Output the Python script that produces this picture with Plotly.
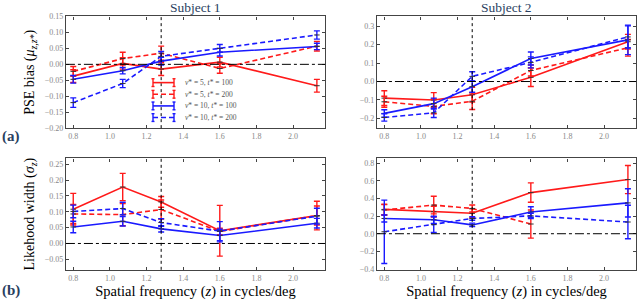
import plotly.graph_objects as go
from plotly.subplots import make_subplots

freqs = [0.8, 1.07, 1.28, 1.6, 2.13]
series_names = ["<i>v</i>* = 5, <i>t</i>* = 100", "<i>v</i>* = 5, <i>t</i>* = 200",
                "<i>v</i>* = 10, <i>t</i>* = 100", "<i>v</i>* = 10, <i>t</i>* = 200"]

# Subject 1 PSE bias
s1_bias_r100 = [-0.037, 0.003, -0.015, 0.007, -0.067]
s1_bias_r100_err = [0.02, 0.018, 0.02, 0.015, 0.02]
s1_bias_r200 = [-0.022, 0.018, 0.035, -0.013, 0.057]
s1_bias_r200_err = [0.015, 0.02, 0.022, 0.015, 0.015]
s1_bias_b100 = [-0.047, -0.02, 0.01, 0.038, 0.056]
s1_bias_b100_err = [0.012, 0.01, 0.012, 0.012, 0.01]
s1_bias_b200 = [-0.12, -0.06, 0.025, 0.05, 0.092]
s1_bias_b200_err = [0.015, 0.013, 0.015, 0.012, 0.013]

# Subject 2 PSE bias
s2_bias_r100 = [-0.09, -0.1, -0.072, 0.023, 0.216]
s2_bias_r100_err = [0.04, 0.04, 0.04, 0.05, 0.04]
s2_bias_r200 = [-0.11, -0.135, -0.107, 0.06, 0.183]
s2_bias_r200_err = [0.03, 0.04, 0.045, 0.03, 0.045]
s2_bias_b100 = [-0.173, -0.12, -0.028, 0.125, 0.226]
s2_bias_b100_err = [0.02, 0.03, 0.03, 0.035, 0.08]
s2_bias_b200 = [-0.195, -0.17, 0.028, 0.104, 0.242]
s2_bias_b200_err = [0.02, 0.025, 0.025, 0.03, 0.06]

# Subject 1 likelihood width
s1_w_r100 = [0.108, 0.178, 0.131, 0.04, 0.088]
s1_w_r100_err = [0.05, 0.043, 0.017, 0.08, 0.045]
s1_w_r200 = [0.093, 0.091, 0.107, 0.038, 0.088]
s1_w_r200_err = [0.03, 0.035, 0.03, 0.01, 0.03]
s1_w_b100 = [0.052, 0.07, 0.046, 0.025, 0.064]
s1_w_b100_err = [0.018, 0.015, 0.01, 0.02, 0.015]
s1_w_b200 = [0.101, 0.11, 0.066, 0.039, 0.086]
s1_w_b200_err = [0.02, 0.02, 0.012, 0.03, 0.025]

# Subject 2 likelihood width
s2_w_r100 = [0.276, 0.25, 0.232, 0.467, 0.615]
s2_w_r100_err = [0.06, 0.06, 0.05, 0.11, 0.16]
s2_w_r200 = [0.27, 0.325, 0.287, 0.11, None]
s2_w_r200_err = [0.06, 0.1, 0.04, 0.16, 0]
s2_w_b100 = [0.173, 0.158, 0.1, 0.247, 0.35]
s2_w_b100_err = [0.04, 0.04, 0.02, 0.06, 0.16]
s2_w_b200 = [0.022, 0.103, 0.173, 0.203, 0.133]
s2_w_b200_err = [0.36, 0.09, 0.02, 0.03, 0.19]

x_ticks = [0.8, 1.0, 1.2, 1.4, 1.6, 1.8, 2.0]

RED = "#ff1a1a"
BLUE = "#1a1aff"
FONT = "Liberation Serif"
W, H = 640, 306
DASH = "5px,3px"

fig = make_subplots(rows=2, cols=2)

panels = [
    (1, 1, [s1_bias_r100, s1_bias_r200, s1_bias_b100, s1_bias_b200],
     [s1_bias_r100_err, s1_bias_r200_err, s1_bias_b100_err, s1_bias_b200_err]),
    (1, 2, [s2_bias_r100, s2_bias_r200, s2_bias_b100, s2_bias_b200],
     [s2_bias_r100_err, s2_bias_r200_err, s2_bias_b100_err, s2_bias_b200_err]),
    (2, 1, [s1_w_r100, s1_w_r200, s1_w_b100, s1_w_b200],
     [s1_w_r100_err, s1_w_r200_err, s1_w_b100_err, s1_w_b200_err]),
    (2, 2, [s2_w_r100, s2_w_r200, s2_w_b100, s2_w_b200],
     [s2_w_r100_err, s2_w_r200_err, s2_w_b100_err, s2_w_b200_err]),
]
colors = [RED, RED, BLUE, BLUE]
dashes = ["solid", DASH, "solid", DASH]

for r, c, ys, errs in panels:
    for i in range(4):
        fig.add_trace(go.Scatter(
            x=freqs, y=ys[i], mode="lines+markers", name=series_names[i],
            line=dict(color=colors[i], width=1.6, dash=dashes[i]),
            marker=dict(symbol="line-ew", size=4, color="#333",
                        line=dict(width=1, color="#333")),
            error_y=dict(type="data", array=errs[i], color=colors[i],
                         thickness=1.4, width=3),
            showlegend=False, connectgaps=False,
        ), row=r, col=c)

xdom_l = [0.103, 0.508]
xdom_r = [0.589, 0.994]
ydom_t = [0.582, 0.958]
ydom_b = [0.105, 0.480]
yranges = {(1, 1): [-0.2, 0.15], (1, 2): [-0.253, 0.353],
           (2, 1): [-0.083, 0.268], (2, 2): [-0.41, 0.855]}
ydtick = {(1, 1): 0.05, (1, 2): 0.1, (2, 1): 0.05, (2, 2): 0.2}
yfmt = {(1, 1): ".2f", (1, 2): ".1f", (2, 1): ".2f", (2, 2): ".1f"}

axis_common = dict(showgrid=False, zeroline=False, showline=True, linecolor="#444",
                   linewidth=1.2, mirror="ticks", ticks="inside", ticklen=3,
                   tickcolor="#444", tickfont=dict(family=FONT, size=8, color="#888"))

for r in (1, 2):
    for c in (1, 2):
        fig.update_xaxes(range=[0.76, 2.175], tickvals=x_ticks,
                         ticktext=["%.1f" % v for v in x_ticks],
                         domain=xdom_l if c == 1 else xdom_r, **axis_common,
                         row=r, col=c)
        fig.update_yaxes(range=yranges[(r, c)], dtick=ydtick[(r, c)], tick0=0,
                         tickformat=yfmt[(r, c)],
                         domain=ydom_t if r == 1 else ydom_b, **axis_common,
                         row=r, col=c)
        fig.add_vline(x=1.28, line=dict(color="black", width=1, dash="dot"), row=r, col=c)
        fig.add_hline(y=0, line=dict(color="black", width=1, dash="dashdot"), row=r, col=c)

title_font = dict(family=FONT, size=14, color="black")
xtitle_font = dict(family=FONT, size=14.5, color="black")
fig.update_yaxes(title_text="PSE bias (<i>μ</i><sub><i>z,z*</i></sub>)", title_font=title_font,
                 title_standoff=6, row=1, col=1)
fig.update_yaxes(title_text="Likehood width (<i>σ</i><sub><i>z</i></sub>)", title_font=title_font,
                 title_standoff=6, row=2, col=1)
fig.update_xaxes(title_text="Spatial frequency (<i>z</i>) in cycles/deg", title_font=xtitle_font,
                 title_standoff=1, row=2, col=1)
fig.update_xaxes(title_text="Spatial frequency (<i>z</i>) in cycles/deg", title_font=xtitle_font,
                 title_standoff=1, row=2, col=2)

annotations = [
    dict(text="Subject 1", x=(xdom_l[0] + xdom_l[1]) / 2, y=0.955, xref="paper", yref="paper",
         xanchor="center", yanchor="bottom", showarrow=False, font=dict(family=FONT, size=13.5)),
    dict(text="Subject 2", x=(xdom_r[0] + xdom_r[1]) / 2, y=0.955, xref="paper", yref="paper",
         xanchor="center", yanchor="bottom", showarrow=False, font=dict(family=FONT, size=13.5)),
    dict(text="<b>(a)</b>", x=0.0, y=1 - 137 / H, xref="paper", yref="paper", xanchor="left",
         yanchor="middle", showarrow=False, font=dict(family=FONT, size=15)),
    dict(text="<b>(b)</b>", x=0.0, y=1 - 295 / H, xref="paper", yref="paper", xanchor="left",
         yanchor="middle", showarrow=False, font=dict(family=FONT, size=15)),
]

# manual legend (compact, inside Subject 1 panel)
shapes = []
leg_rows = [81, 93, 105, 117]
lx0, lx1 = 153, 174
for i, ypx in enumerate(leg_rows):
    yp = 1 - ypx / H
    shapes.append(dict(type="line", xref="paper", yref="paper", x0=lx0 / W, x1=lx1 / W,
                       y0=yp, y1=yp, line=dict(color=colors[i], width=1.6, dash=dashes[i])))
    for xe in (lx0, lx1):
        shapes.append(dict(type="line", xref="paper", yref="paper", x0=xe / W, x1=xe / W,
                           y0=yp - 4 / H, y1=yp + 4 / H, line=dict(color=colors[i], width=1.4)))
        shapes.append(dict(type="line", xref="paper", yref="paper", x0=(xe - 1.5) / W,
                           x1=(xe + 1.5) / W, y0=yp - 4 / H, y1=yp - 4 / H,
                           line=dict(color=colors[i], width=1.4)))
        shapes.append(dict(type="line", xref="paper", yref="paper", x0=(xe - 1.5) / W,
                           x1=(xe + 1.5) / W, y0=yp + 4 / H, y1=yp + 4 / H,
                           line=dict(color=colors[i], width=1.4)))
    annotations.append(dict(text=series_names[i], x=183 / W, y=yp, xref="paper", yref="paper",
                            xanchor="left", yanchor="middle", showarrow=False,
                            font=dict(family=FONT, size=7.5, color="#555")))

fig.update_layout(
    width=W, height=H, margin=dict(l=0, r=0, t=0, b=0),
    plot_bgcolor="white", paper_bgcolor="white",
    annotations=annotations, shapes=list(fig.layout.shapes) + shapes,
    showlegend=False, hovermode=False,
    font=dict(family=FONT),
)

fig.write_html("out.html", config={"displayModeBar": False},
               post_script="document.body.style.margin='0';document.body.style.padding='0';")
